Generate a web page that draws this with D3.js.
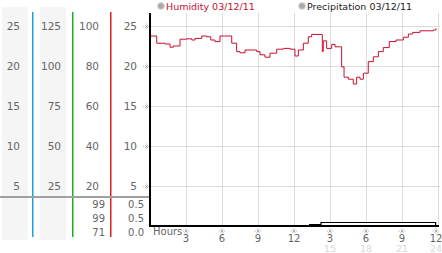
<!DOCTYPE html>
<html>
<head>
<meta charset="utf-8">
<script src="https://cdn.jsdelivr.net/npm/d3@7"></script>
<style>
  body { margin: 0; background: #fff; }
  svg { display: block; font-family: "DejaVu Sans", sans-serif; }
</style>
</head>
<body>
<svg id="chart" width="442" height="253"></svg>
<script>
// hours + humidity readings (left axis, 0-25)
const humHours = [0, 0.56, 1.25, 1.67, 1.94, 2.5, 3.06, 3.48, 3.75, 4.31, 4.72, 5.06, 5.42, 5.83, 6.44, 6.81,
  7.22, 7.5, 7.92, 8.47, 8.89, 9.17, 9.58, 10.0, 10.56, 11.11, 11.67, 12.08, 12.36, 12.78, 13.19, 13.47,
  14.25, 14.36, 14.44, 14.72, 15.14, 15.42, 15.78, 15.97, 16.17, 16.53, 16.94, 17.22, 17.5, 17.78, 18.19,
  18.61, 19.03, 19.44, 19.94, 20.5, 21.11, 21.53, 21.89, 22.5, 23.61, 23.83];
const humValues = [23.75, 22.85, 22.75, 22.35, 22.5, 23.35, 23.4, 23.25, 23.45, 23.75, 23.65, 23.25, 23.05, 23.75, 23.75, 22.85,
  21.8, 21.65, 22.0, 22.0, 21.8, 21.4, 21.1, 21.6, 22.1, 22.2, 22.1, 21.25, 22.0, 22.85, 23.65, 23.95,
  23.95, 21.8, 23.15, 22.2, 22.7, 22.4, 22.4, 19.9, 18.6, 18.35, 17.75, 18.6, 18.35, 19.1, 20.55,
  21.15, 21.8, 22.3, 23.05, 23.25, 23.6, 24.0, 24.2, 24.4, 24.5, 24.7];

// precipitation, accumulated (step)
const precipHours = [0, 13.3, 14.25, 23.8];
const precipValues = [0, 0.01, 0.03, 0.03];

// left hand axes
const col1Ticks = [25, 20, 15, 10, 5];
const col2Ticks = [125, 100, 75, 50, 25];
const col3Ticks = [100, 80, 60, 40, 20];
const col4Ticks = [25, 20, 15, 10, 5];
const col3Current = ["99", "99", "71"];
const col4Current = ["0.5", "0.5", "0.0"];

const hourTicks = [3, 6, 9, 12, 15, 18, 21, 24];
const legendNames = ["Humidity 03/12/11", "Precipitation 03/12/11"];

const svg = d3.select("#chart");

const x = d3.scaleLinear().domain([0, 24]).range([150, 438]);
const y = d3.scaleLinear().domain([0, 25]).range([226, 26]);
const y2 = d3.scaleLinear().domain([0, 125]).range([226, 26]);
const y3 = d3.scaleLinear().domain([0, 100]).range([226, 26]);
const yP = d3.scaleLinear().domain([0, 1]).range([225.5, 125.5]);

// tiny "※" style tick mark
const markPath = "M-1.5,-1.5L1.5,1.5M1.5,-1.5L-1.5,1.5M-0.5,-2.5h1M-0.5,2h1M-2.8,-0.5v1M2.3,-0.5v1";

// gray bands behind first two columns
svg.append("rect").attr("x", 2).attr("y", 7).attr("width", 26).attr("height", 233).attr("fill", "#f5f5f5");
svg.append("rect").attr("x", 40).attr("y", 7).attr("width", 26).attr("height", 233).attr("fill", "#f5f5f5");

// colored separators
[[32, "#1e9fe0"], [72, "#1fae1f"], [110, "#dd2020"]].forEach(function(s) {
  svg.append("rect")
    .attr("x", s[0]).attr("y", 12)
    .attr("width", 1.5).attr("height", 225)
    .attr("fill", s[1]);
});

// horizontal gray divider
svg.append("line").attr("x1", 0).attr("x2", 150).attr("y1", 197).attr("y2", 197)
  .attr("stroke", "#a0a0a0").attr("stroke-width", 2);

function colLabels(ticks, scale, xr) {
  svg.append("g").selectAll("text")
    .data(ticks)
    .join("text")
    .attr("x", xr)
    .attr("y", d => scale(d) + 4)
    .attr("text-anchor", "end")
    .attr("fill", "#666")
    .style("font-size", "10.5px")
    .text(d => d);
}
colLabels(col1Ticks, y, 20);
colLabels(col2Ticks, y2, 61);
colLabels(col3Ticks, y3, 99);
colLabels(col4Ticks, y, 137);

function currentLabels(vals, xr) {
  svg.append("g").selectAll("text")
    .data(vals)
    .join("text")
    .attr("x", xr)
    .attr("y", (d, i) => 208 + i * 14)
    .attr("text-anchor", "end")
    .attr("fill", "#666")
    .style("font-size", "10px")
    .text(d => d);
}
currentLabels(col3Current, 105);
currentLabels(col4Current, 144);

// grid
svg.append("g").selectAll("line")
  .data(col1Ticks)
  .join("line")
  .attr("x1", 150).attr("x2", 440)
  .attr("y1", d => y(d) + 0.5).attr("y2", d => y(d) + 0.5)
  .attr("stroke", "#dcdcdc");
svg.append("g").selectAll("line")
  .data(hourTicks)
  .join("line")
  .attr("x1", d => Math.round(x(d)) + 0.5).attr("x2", d => Math.round(x(d)) + 0.5)
  .attr("y1", 13).attr("y2", 226)
  .attr("stroke", "#dcdcdc");

// small tick marks on y axis
svg.append("g").selectAll("path")
  .data(col1Ticks)
  .join("path")
  .attr("transform", d => `translate(146.5,${y(d) + 0.5})`)
  .attr("d", markPath)
  .attr("fill", "none")
  .attr("stroke", "#999")
  .attr("stroke-width", 0.8);

// precipitation (outlined step area)
const pData = precipHours.map((h, i) => ({h: h, v: precipValues[i]}));
svg.append("path")
  .datum(pData)
  .attr("d", d3.area().curve(d3.curveStepAfter).x(d => x(d.h)).y0(yP(0)).y1(d => yP(d.v)))
  .attr("fill", "#fff")
  .attr("stroke", "#000")
  .attr("stroke-width", 1.2);

// humidity line
const hData = humHours.map((h, i) => ({h: h, v: humValues[i]}));
svg.append("path")
  .datum(hData)
  .attr("d", d3.line().curve(d3.curveStepAfter).x(d => x(d.h)).y(d => y(d.v)))
  .attr("fill", "none")
  .attr("stroke", "#c8102e")
  .attr("stroke-width", 1);

// axes lines
svg.append("line").attr("x1", 150).attr("x2", 150).attr("y1", 13).attr("y2", 227)
  .attr("stroke", "#000").attr("stroke-width", 2);
svg.append("line").attr("x1", 149).attr("x2", 439).attr("y1", 226).attr("y2", 226)
  .attr("stroke", "#000").attr("stroke-width", 2);

// x axis labels
svg.append("text").attr("x", 153).attr("y", 235).attr("fill", "#666")
  .style("font-size", "10px").text("Hours");
const xl = svg.append("g").selectAll("g")
  .data(hourTicks)
  .join("g")
  .attr("transform", d => `translate(${d == 24 ? 436 : x(d)},0)`);
xl.append("path").attr("transform", "translate(0,231)").attr("d", markPath)
  .attr("fill", "none").attr("stroke", "#999").attr("stroke-width", 0.8);
xl.append("text").attr("y", 242).attr("text-anchor", "middle").attr("fill", "#666")
  .style("font-size", "10px").text(d => d > 12 ? d - 12 : d);
xl.filter(d => d > 12).append("text").attr("y", 251.5).attr("text-anchor", "middle").attr("fill", "#d8d8d8")
  .style("font-size", "9.5px").text(d => d);

// legend
const legend = svg.append("g").selectAll("g")
  .data(legendNames)
  .join("g")
  .attr("transform", (d, i) => `translate(${i == 0 ? 161 : 302},6)`);
legend.append("circle").attr("r", 3.3).attr("fill", "#aaa").attr("stroke", "#ccc");
legend.append("text").attr("x", 5).attr("y", 4)
  .attr("fill", (d, i) => i == 0 ? "#c8102e" : "#222")
  .style("font-size", "9.5px")
  .text(d => d);
</script>
</body>
</html>
